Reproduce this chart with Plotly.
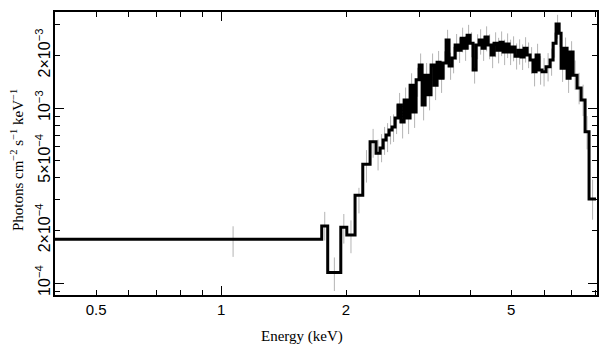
import math
import plotly.graph_objects as go

# ---------------- data ----------------
# bin edges in keV
bin_edges = [0.39, 1.748, 1.807, 1.943, 2.009, 2.103, 2.195, 2.286, 2.363, 2.416,
             2.457, 2.498, 2.540, 2.582, 2.626, 2.670, 2.715, 2.761, 2.807, 2.854,
             2.902, 2.951, 3.001, 3.051, 3.102, 3.154, 3.206, 3.261, 3.315, 3.371,
             3.427, 3.485, 3.543, 3.603, 3.664, 3.725, 3.788, 3.851, 3.916, 3.981,
             4.048, 4.117, 4.186, 4.256, 4.327, 4.400, 4.474, 4.549, 4.626, 4.703,
             4.782, 4.862, 4.943, 5.026, 5.110, 5.197, 5.284, 5.372, 5.462, 5.554,
             5.647, 5.741, 5.838, 5.935, 6.068, 6.205, 6.310, 6.415, 6.523, 6.596,
             6.706, 6.819, 6.934, 7.050, 7.209, 7.371, 7.535, 7.703, 8.007]

# model (step line), units of 1e-3 photons cm^-2 s^-1 keV^-1
model_vals = [0.178, 0.212, 0.115, 0.208, 0.188, 0.317, 0.477, 0.642, 0.551,
              0.591, 0.656, 0.701, 0.749, 0.779, 0.877, 1.04, 0.832, 1.11, 0.877,
              1.35, 0.949, 1.45, 1.76, 1.04, 1.54, 1.19, 1.76, 1.35, 1.83,
              1.48, 1.81, 2.45, 1.74, 1.93, 2.29, 2.14, 2.51, 2.20, 2.61,
              2.35, 1.65, 2.29, 2.45, 2.20, 2.55, 2.29, 2.01, 2.35, 2.14,
              2.38, 2.09, 2.32, 2.09, 2.23, 1.98, 2.14, 1.96, 2.20, 2.01,
              1.88, 1.61, 2.01, 1.65, 1.61, 1.72, 1.88, 2.35, 3.02, 2.68,
              1.69, 2.20, 1.48, 2.09, 1.54, 1.30, 1.11, 0.731, 0.302]

# data points (value and 1-sigma error), units of 1e-3
data_vals = [0.176, 0.215, 0.115, 0.208, 0.188, 0.300, 0.475, 0.640, 0.550,
             0.60, 0.66, 0.69, 0.76, 0.78, 0.88, 1.02, 0.84, 1.10, 0.89,
             1.33, 0.96, 1.43, 1.74, 1.06, 1.52, 1.21, 1.74, 1.37, 1.80,
             1.50, 1.79, 2.40, 1.76, 1.91, 2.27, 2.16, 2.48, 2.22, 2.58,
             2.33, 1.68, 2.27, 2.42, 2.22, 2.52, 2.27, 2.03, 2.33, 2.16,
             2.36, 2.11, 2.30, 2.11, 2.21, 2.00, 2.12, 1.98, 2.18, 2.03,
             1.90, 1.63, 1.99, 1.67, 1.63, 1.74, 1.86, 2.32, 2.95, 2.65,
             1.72, 2.17, 1.51, 2.06, 1.57, 1.32, 1.13, 0.74, 0.31]
data_errs = [0.035, 0.040, 0.025, 0.040, 0.040, 0.050, 0.10, 0.12, 0.11,
             0.11, 0.12, 0.13, 0.14, 0.14, 0.17, 0.20, 0.17, 0.21, 0.18,
             0.25, 0.19, 0.27, 0.31, 0.21, 0.29, 0.24, 0.31, 0.26, 0.32,
             0.28, 0.32, 0.40, 0.31, 0.33, 0.38, 0.35, 0.40, 0.36, 0.41,
             0.38, 0.30, 0.37, 0.40, 0.36, 0.41, 0.37, 0.34, 0.38, 0.36,
             0.38, 0.35, 0.37, 0.35, 0.36, 0.34, 0.35, 0.33, 0.36, 0.34,
             0.33, 0.30, 0.34, 0.31, 0.30, 0.32, 0.33, 0.38, 0.46, 0.42,
             0.31, 0.36, 0.29, 0.35, 0.30, 0.27, 0.23, 0.16, 0.08]

x_tick_vals = [0.5, 1, 2, 5]
x_tick_text = ["0.5", "1", "2", "5"]
x_minor_vals = [0.4, 0.6, 0.7, 0.8, 0.9, 3, 4, 6, 7, 8]
x_decade_vals = [1]
y_tick_vals = [1e-4, 2e-4, 5e-4, 1e-3, 2e-3]
y_tick_text = ["10<sup>\u22124</sup>", "2\u00d710<sup>\u22124</sup>", "5\u00d710<sup>\u22124</sup>",
               "10<sup>\u22123</sup>", "2\u00d710<sup>\u22123</sup>"]
y_minor_vals = [9e-5, 3e-4, 4e-4, 6e-4, 7e-4, 8e-4, 9e-4, 3e-3]
y_decade_vals = [1e-4, 1e-3]

x_range = [0.398, 8.05]
y_range = [8.54e-5, 3.54e-3]

# ---------------- build ----------------
scale = 1e-3
step_x = bin_edges
step_y = [v * scale for v in model_vals] + [model_vals[-1] * scale]
data_x = [(bin_edges[i] + bin_edges[i + 1]) / 2 for i in range(len(data_vals))]
data_y = [v * scale for v in data_vals]
data_e = [v * scale for v in data_errs]

fig = go.Figure()
fig.add_trace(go.Scatter(
    x=data_x, y=data_y, mode="markers",
    marker=dict(size=2, opacity=0),
    error_y=dict(type="data", array=data_e, color="#b4b4b4", thickness=1, width=0),
    showlegend=False, hoverinfo="skip"))
fig.add_trace(go.Scatter(
    x=step_x, y=step_y, mode="lines",
    line=dict(color="black", width=3, shape="hv"),
    showlegend=False, hoverinfo="skip"))
# invisible trace to anchor the overlay axes used for the long decade ticks
fig.add_trace(go.Scatter(x=[x_range[0]], y=[y_range[0]], xaxis="x2", yaxis="y2",
                         mode="markers", marker=dict(size=1, opacity=0),
                         showlegend=False, hoverinfo="skip"))

lx = [math.log10(v) for v in x_range]
ly = [math.log10(v) for v in y_range]
tick_font = dict(family="Liberation Sans, Arial, sans-serif", size=15, color="black")
ytick_font = dict(family="Liberation Sans, Arial, sans-serif", size=16, color="black")
title_font = dict(family="Liberation Serif, Times New Roman, serif", size=15, color="black")

fig.update_layout(
    width=601, height=349,
    margin=dict(l=47, r=12, t=4, b=62, autoexpand=False),
    paper_bgcolor="white", plot_bgcolor="white",
    xaxis=dict(type="log", range=lx, tickvals=x_tick_vals, ticktext=x_tick_text,
               ticks="inside", ticklen=5, tickwidth=1.3, tickcolor="black",
               showline=True, linewidth=2, linecolor="black", mirror="allticks",
               showgrid=False, zeroline=False, tickfont=tick_font, automargin=False,
               minor=dict(ticks="inside", ticklen=5, tickwidth=1.3, tickcolor="black",
                          tickvals=x_minor_vals, showgrid=False)),
    yaxis=dict(type="log", range=ly, tickvals=y_tick_vals, ticktext=y_tick_text,
               tickangle=-90, ticklabelstandoff=-3,
               ticks="inside", ticklen=5, tickwidth=1.3, tickcolor="black",
               showline=True, linewidth=2, linecolor="black", mirror="allticks",
               showgrid=False, zeroline=False, tickfont=ytick_font, automargin=False,
               minor=dict(ticks="inside", ticklen=5, tickwidth=1.3, tickcolor="black",
                          tickvals=y_minor_vals, showgrid=False)),
    xaxis2=dict(type="log", range=lx, overlaying="x", anchor="y2", tickvals=x_decade_vals,
                ticks="inside", ticklen=9, tickwidth=1.3, tickcolor="black",
                showticklabels=False, showline=False, mirror="allticks",
                showgrid=False, zeroline=False, automargin=False),
    yaxis2=dict(type="log", range=ly, overlaying="y", anchor="x2", tickvals=y_decade_vals,
                ticks="inside", ticklen=9, tickwidth=1.3, tickcolor="black",
                showticklabels=False, showline=False, mirror="allticks",
                showgrid=False, zeroline=False, automargin=False),
    annotations=[
        dict(text="Energy (keV)", xref="paper", yref="paper", x=0.456, y=-0.148,
             showarrow=False, font=title_font, xanchor="center", yanchor="middle"),
        dict(text="Photons cm<sup>\u22122</sup> s<sup>\u22121</sup> keV<sup>\u22121</sup>",
             xref="paper", yref="paper", x=-0.070, y=0.477, textangle=-90,
             showarrow=False, font=title_font, xanchor="center", yanchor="middle"),
    ],
)

fig.write_html("out.html")
